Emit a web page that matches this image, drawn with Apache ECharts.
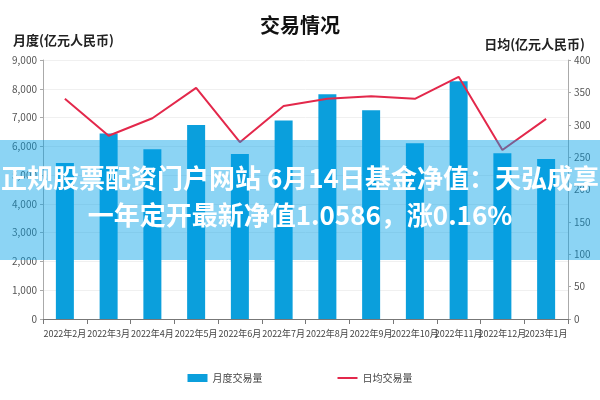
<!DOCTYPE html>
<html>
<head>
<meta charset="utf-8">
<script src="https://cdn.jsdelivr.net/npm/echarts@6/dist/echarts.min.js"></script>
<style>
  html, body { margin: 0; padding: 0; background: #fff; }
  #main { width: 600px; height: 400px; }
</style>
</head>
<body>
<div id="main"></div>
<script>
// 月份
const months = ['2022年2月', '2022年3月', '2022年4月', '2022年5月', '2022年6月', '2022年7月',
  '2022年8月', '2022年9月', '2022年10月', '2022年11月', '2022年12月', '2023年1月']
// 月度交易量(亿元)
const monthlyVolume = [5420, 6450, 5900, 6740, 5730, 6900, 7810, 7250, 6110, 8260, 5760, 5560]
// 日均交易量(亿元)
const dailyAvg = [340, 283, 310, 357, 273, 329, 340, 344, 340, 374, 261, 309]
const leftTicks = { min: 0, max: 9000, interval: 1000 }
const rightTicks = { min: 0, max: 400, interval: 50 }

const fontCn = '"Noto Sans CJK SC", sans-serif'

const chart = echarts.init(document.getElementById('main'))
const option = {
  animation: false,
  title: [
    {
      text: '交易情况',
      left: 'center',
      top: 10,
      textStyle: { fontSize: 20, fontWeight: 'bold', color: '#111', fontFamily: 'Noto Sans CJK SC' }
    },
    {
      text: '月度(亿元人民币)',
      left: 8,
      top: 29,
      textStyle: { fontSize: 13, fontWeight: 'bold', color: '#222', fontFamily: 'Noto Sans CJK SC' }
    },
    {
      text: '日均(亿元人民币)',
      right: 10,
      top: 33,
      textStyle: { fontSize: 13, fontWeight: 'bold', color: '#222', fontFamily: 'Noto Sans CJK SC' }
    }
  ],
  grid: { left: 43, right: 32, top: 60, bottom: 81 },
  legend: {
    bottom: 12,
    left: 'center',
    itemGap: 75,
    itemWidth: 20,
    itemHeight: 8,
    textStyle: { fontSize: 10, color: '#444', fontFamily: fontCn },
    data: [
      { name: '月度交易量', icon: 'rect' },
      { name: '日均交易量', icon: 'path://M0,3L20,3L20,5L0,5Z' }
    ]
  },
  xAxis: {
    type: 'category',
    data: months,
    axisLine: { lineStyle: { color: '#777' } },
    axisTick: { show: true, alignWithLabel: false, lineStyle: { color: '#777' } },
    axisLabel: { interval: 0, fontSize: 9, color: '#444', margin: 10, fontFamily: fontCn }
  },
  yAxis: [
    {
      type: 'value',
      min: leftTicks.min,
      max: leftTicks.max,
      interval: leftTicks.interval,
      axisLine: { show: true, lineStyle: { color: '#aaa' } },
      axisTick: { show: true, length: 3, lineStyle: { color: '#aaa' } },
      axisLabel: {
        fontSize: 10,
        color: '#555',
        margin: 6,
        fontFamily: fontCn,
        formatter: v => v.toLocaleString('en-US')
      },
      splitLine: { lineStyle: { color: '#f0f0f0' } }
    },
    {
      type: 'value',
      min: rightTicks.min,
      max: rightTicks.max,
      interval: rightTicks.interval,
      axisLine: { show: true, lineStyle: { color: '#aaa' } },
      axisTick: { show: true, length: 3, lineStyle: { color: '#aaa' } },
      axisLabel: { fontSize: 10, color: '#555', margin: 6, fontFamily: fontCn },
      splitLine: { show: false }
    }
  ],
  series: [
    {
      name: '月度交易量',
      type: 'bar',
      yAxisIndex: 0,
      barWidth: 18,
      itemStyle: { color: '#0b9fdc' },
      data: monthlyVolume
    },
    {
      name: '日均交易量',
      type: 'line',
      yAxisIndex: 1,
      showSymbol: false,
      symbol: 'none',
      itemStyle: { color: '#e3284b' },
      lineStyle: { color: '#e3284b', width: 2 },
      data: dailyAvg
    }
  ],
  graphic: [
    {
      type: 'rect',
      left: 0,
      top: 140,
      z: 100,
      shape: { width: 600, height: 120 },
      style: { fill: 'rgba(0,160,230,0.45)' }
    },
    {
      type: 'text',
      left: 'center',
      top: 165,
      z: 101,
      style: {
        text: '正规股票配资门户网站 6月14日基金净值：天弘成享',
        fill: '#fff',
        font: 'bold 26px "Noto Sans CJK SC"'
      }
    },
    {
      type: 'text',
      left: 'center',
      top: 202,
      z: 101,
      style: {
        text: '一年定开最新净值1.0586，涨0.16%',
        fill: '#fff',
        font: 'bold 26px "Noto Sans CJK SC"'
      }
    }
  ]
}
option && chart.setOption(option)
</script>
</body>
</html>
